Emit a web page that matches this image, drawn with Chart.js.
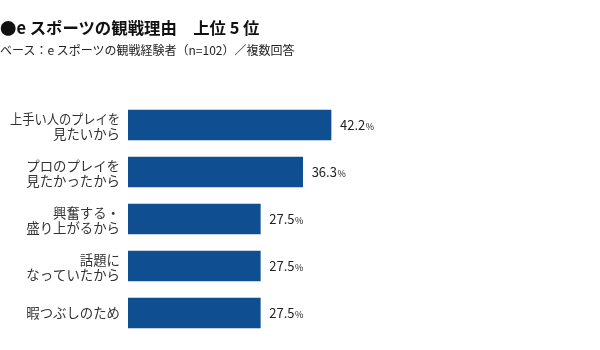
<!DOCTYPE html>
<html><head><meta charset="utf-8">
<script src="https://cdn.jsdelivr.net/npm/chart.js@4"></script>
<style>
html,body{margin:0;padding:0;background:#fff;}
#wrap{position:relative;width:600px;height:350px;overflow:hidden;}
canvas{position:absolute;left:0;top:0;}
.t{position:absolute;left:0;white-space:nowrap;font-family:"Noto Sans CJK JP","Noto Sans",sans-serif;color:#111;}
#title{top:16px;font-size:16.4px;font-weight:bold;line-height:22px;}
#sub{top:42px;font-size:12px;line-height:16px;color:#222;}
</style></head>
<body>
<div id="wrap">
<canvas id="c" width="600" height="350"></canvas>
<div class="t" id="title">●e スポーツの観戦理由　上位 5 位</div>
<div class="t" id="sub">ベース：e スポーツの観戦経験者（n=102）／複数回答</div>
</div>
<script>
const categories = [
  ['上手い人のプレイを','見たいから'],
  ['プロのプレイを','見たかったから'],
  ['興奮する・','盛り上がるから'],
  ['話題に','なっていたから'],
  '暇つぶしのため'
];
const values = [42.2, 36.3, 27.5, 27.5, 27.5];

const valueLabels = {
  id: 'valueLabels',
  afterDatasetsDraw(chart) {
    const ctx = chart.ctx;
    const meta = chart.getDatasetMeta(0);
    ctx.save();
    ctx.fillStyle = '#222';
    ctx.textBaseline = 'alphabetic';
    meta.data.forEach((bar, i) => {
      const num = values[i].toFixed(1);
      const x = bar.x + 9;
      const y = bar.y + 5;
      ctx.font = '13px "Noto Sans CJK JP", "Noto Sans", sans-serif';
      ctx.fillText(num, x, y);
      const w = ctx.measureText(num).width;
      ctx.font = '9px "Noto Sans CJK JP", "Noto Sans", sans-serif';
      ctx.fillText('%', x + w + 0.5, y);
    });
    ctx.restore();
  }
};

const catLabels = {
  id: 'catLabels',
  afterDraw(chart) {
    const ctx = chart.ctx;
    const ys = chart.scales.y;
    ctx.save();
    ctx.fillStyle = '#333';
    ctx.textAlign = 'right';
    ctx.textBaseline = 'middle';
    ctx.font = '13.4px "Noto Sans CJK JP", sans-serif';
    const right = ys.right - 8;
    const lh = 15;
    categories.forEach((lab, i) => {
      const lines = Array.isArray(lab) ? lab : [lab];
      const cy = ys.getPixelForTick(i) + (lines.length > 1 ? 1 : 0);
      const y0 = cy - (lines.length - 1) * lh / 2;
      lines.forEach((ln, j) => {
        ctx.fillText(ln, right, y0 + j * lh, 110);
      });
    });
    ctx.restore();
  }
};

new Chart(document.getElementById('c'), {
  type: 'bar',
  data: {
    labels: categories,
    datasets: [{
      data: values,
      backgroundColor: '#0f4e91',
      borderWidth: 0,
      barThickness: 30
    }]
  },
  options: {
    indexAxis: 'y',
    responsive: false,
    animation: false,
    devicePixelRatio: 1,
    layout: { padding: { top: 101.5, bottom: 13.5, left: 0, right: 39 } },
    plugins: { legend: { display: false }, tooltip: { enabled: false } },
    scales: {
      x: { display: false, min: 0, max: 90 },
      y: {
        grid: { display: false, drawTicks: false },
        border: { display: false },
        ticks: { display: false },
        afterFit(scale) {
          scale.width = 128;
          scale.paddingTop = 0;
          scale.paddingBottom = 0;
        }
      }
    }
  },
  plugins: [valueLabels, catLabels]
});
</script>
</body></html>
